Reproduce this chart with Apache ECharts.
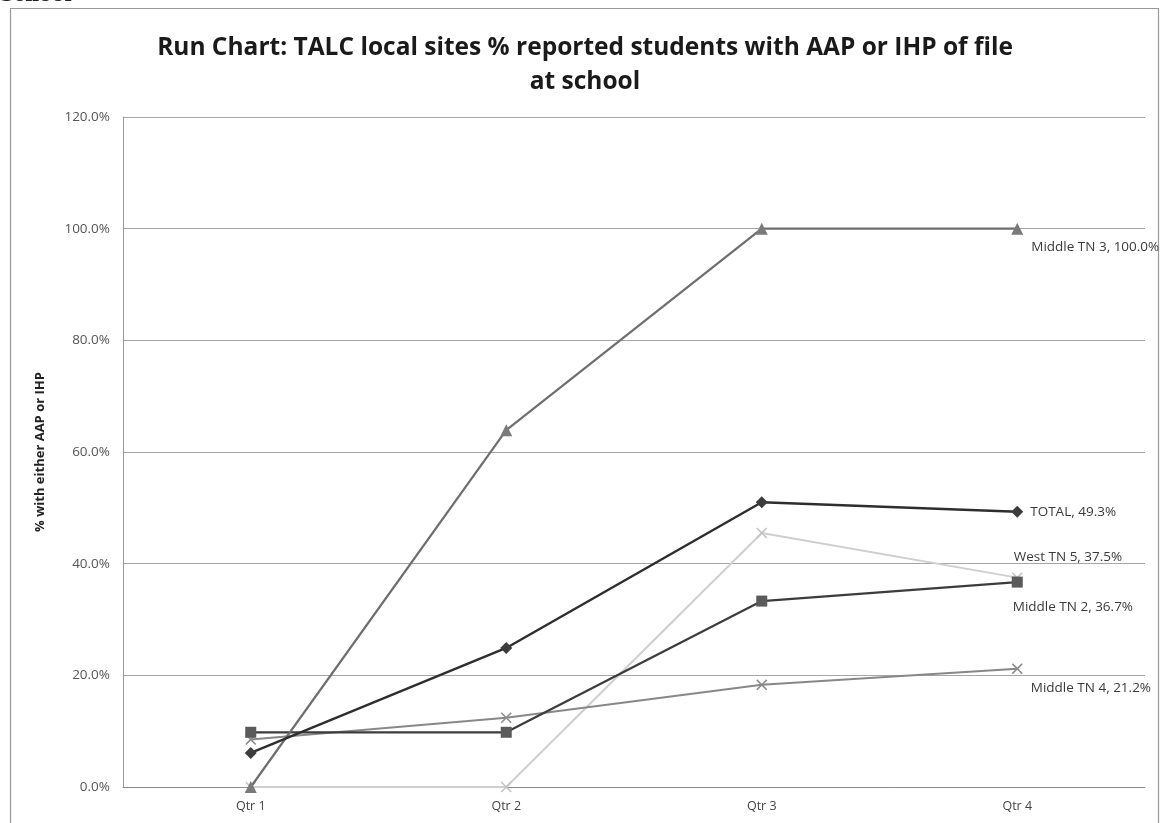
<!DOCTYPE html>
<html>
<head>
<meta charset="utf-8">
<style>
  html, body { margin: 0; padding: 0; background: #ffffff; }
  #chart { width: 1164px; height: 823px; }
</style>
<script src="https://cdn.jsdelivr.net/npm/echarts@6/dist/echarts.min.js"></script>
</head>
<body>
<div id="chart"></div>
<script>
// Quarterly share of students with either an AAP or IHP on file, per site
const quarters = ['Qtr 1', 'Qtr 2', 'Qtr 3', 'Qtr 4'];
const yTicks = [0, 20, 40, 60, 80, 100, 120];

const middleTN3 = [0, 63.9, 100, 100];
const total = [6.1, 24.9, 51.0, 49.3];
const westTN5 = [0, 0, 45.5, 37.5];
const middleTN2 = [9.8, 9.8, 33.3, 36.7];
const middleTN4 = [8.5, 12.4, 18.3, 21.2];

const seriesNames = ['Middle TN 3', 'TOTAL', 'West TN 5', 'Middle TN 2', 'Middle TN 4'];

const crossSymbol = 'path://M0,1L1,0L5,4L9,0L10,1L6,5L10,9L9,10L5,6L1,10L0,9L4,5Z';
const baseFont = 'Open Sans, sans-serif';

// Build point list with a value label on the final quarter only
function withEndLabel(name, values, offset) {
  return values.map((v, i) => {
    if (i !== values.length - 1) return v;
    return {
      value: v,
      label: {
        show: true,
        position: 'right',
        offset: offset,
        formatter: name + ', ' + v.toFixed(1) + '%',
        color: '#3a3a3a',
        fontFamily: baseFont,
        fontSize: 13.5
      }
    };
  });
}

function lineSeries(name, values, opts) {
  return {
    name: name,
    type: 'line',
    data: withEndLabel(name, values, opts.offset),
    symbol: opts.symbol,
    symbolSize: opts.size,
    showAllSymbol: true,
    z: opts.z,
    lineStyle: { color: opts.line, width: opts.width },
    itemStyle: { color: opts.marker, borderColor: opts.marker, borderWidth: 0 },
    emphasis: { disabled: true },
    animation: false
  };
}

const chart = echarts.init(document.getElementById('chart'), null, { renderer: 'canvas' });

chart.setOption({
  backgroundColor: '#ffffff',
  animation: false,
  title: {
    text: 'Run Chart: TALC local sites % reported students with AAP or IHP of file\nat school',
    left: 580,
    top: 26,
    textAlign: 'center',
    textStyle: {
      fontFamily: baseFont,
      fontWeight: 'bold',
      fontSize: 24.5,
      lineHeight: 34,
      color: '#1a1a1a'
    }
  },
  graphic: [
    {
      type: 'rect',
      shape: { x: 10.5, y: 8.5, width: 1148, height: 830 },
      style: { fill: 'none', stroke: '#9a9a9a', lineWidth: 1.2 },
      silent: true
    },
    {
      type: 'text',
      left: 0,
      top: -13,
      style: {
        text: 'School',
        font: 'bold 19px "DejaVu Serif", serif',
        fill: '#222'
      },
      silent: true
    }
  ],
  grid: { left: 123, right: 19, top: 117, bottom: 36, containLabel: false },
  xAxis: {
    type: 'category',
    data: quarters,
    boundaryGap: true,
    axisLine: { show: true, lineStyle: { color: '#8a8a8a', width: 1 } },
    axisTick: { show: false },
    axisLabel: {
      color: '#444',
      fontFamily: baseFont,
      fontSize: 12.5,
      margin: 13
    }
  },
  yAxis: {
    type: 'value',
    min: yTicks[0],
    max: yTicks[yTicks.length - 1],
    interval: 20,
    name: '% with either AAP or IHP',
    nameLocation: 'middle',
    nameGap: 76,
    nameRotate: 90,
    nameTextStyle: {
      fontFamily: baseFont,
      fontWeight: 'bold',
      fontSize: 13,
      color: '#222'
    },
    axisLine: { show: true, lineStyle: { color: '#9a9a9a', width: 1 } },
    axisTick: { show: false },
    axisLabel: {
      color: '#555',
      fontFamily: baseFont,
      fontSize: 13.5,
      margin: 13,
      formatter: v => v.toFixed(1) + '%'
    },
    splitLine: { show: true, lineStyle: { color: '#a6a6a6', width: 1 } }
  },
  series: [
    lineSeries(seriesNames[3], middleTN2, { symbol: 'rect', size: 11, line: '#3c3c3c', marker: '#5a5a5a', width: 2.2, z: 4, offset: [-15, 25] }),
    lineSeries(seriesNames[4], middleTN4, { symbol: crossSymbol, size: 11, line: '#888888', marker: '#8a8a8a', width: 2, z: 3, offset: [3, 20] }),
    lineSeries(seriesNames[2], westTN5, { symbol: crossSymbol, size: 11, line: '#cfcfcf', marker: '#c4c4c4', width: 2, z: 2, offset: [-14, -20] }),
    lineSeries(seriesNames[0], middleTN3, { symbol: 'triangle', size: 12, line: '#6e6e6e', marker: '#7a7a7a', width: 2.2, z: 5, offset: [3, 18] }),
    lineSeries(seriesNames[1], total, { symbol: 'diamond', size: 12, line: '#2e2e2e', marker: '#3c3c3c', width: 2.4, z: 6, offset: [2, 0] })
  ]
});
</script>
</body>
</html>
